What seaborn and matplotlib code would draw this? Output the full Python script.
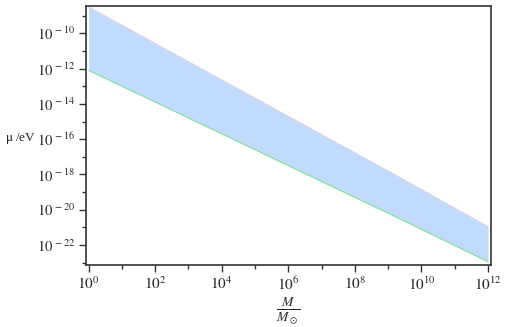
import numpy as np
import pandas as pd
import matplotlib
matplotlib.use("Agg")
import matplotlib.pyplot as plt
import matplotlib.ticker as mticker
import seaborn as sns

# Data (log-log straight lines)
mass = [1.0, 1e3, 1e6, 1e9, 1e12]
mu_upper = [10**-8.5, 10**-11.6, 10**-14.7, 10**-17.8, 10**-20.95]
mu_lower = [10**-12.1, 10**-14.8, 10**-17.5, 10**-20.2, 10**-22.95]

x_ticks = [1e0, 1e2, 1e4, 1e6, 1e8, 1e10, 1e12]
x_labels = [r"$10^{0}$", r"$10^{2}$", r"$10^{4}$", r"$10^{6}$", r"$10^{8}$", r"$10^{10}$", r"$10^{12}$"]
y_ticks = [1e-22, 1e-20, 1e-18, 1e-16, 1e-14, 1e-12, 1e-10]
y_labels = [r"$10^{\,-22}$", r"$10^{\,-20}$", r"$10^{\,-18}$", r"$10^{\,-16}$",
            r"$10^{\,-14}$", r"$10^{\,-12}$", r"$10^{\,-10}$"]

sns.set_style("ticks")
plt.rcParams["mathtext.fontset"] = "stix"
plt.rcParams["font.family"] = ["Liberation Serif", "DejaVu Serif"]

df = pd.DataFrame({"M": mass, "upper": mu_upper, "lower": mu_lower})

fig = plt.figure(figsize=(5.07, 3.27), dpi=100)
ax = fig.add_axes([86 / 507, 1 - 264.7 / 327, (491 - 86) / 507, (264.7 - 6) / 327])

ax.set_xscale("log")
ax.set_yscale("log")

sns.lineplot(data=df, x="M", y="upper", ax=ax, color="#ff7070", lw=0.5, alpha=0.5, zorder=1)
ax.fill_between(df["M"], df["lower"], df["upper"], color="#c0dbfe", lw=0, zorder=2)
sns.lineplot(data=df, x="M", y="lower", ax=ax, color="#7ee29a", lw=0.8, zorder=3)

ax.set_xlim(10**-0.08, 10**12.09)
ax.set_ylim(10**-23.12, 10**-8.45)

ax.xaxis.set_major_locator(mticker.FixedLocator(x_ticks))
ax.xaxis.set_major_formatter(mticker.FixedFormatter(x_labels))
ax.xaxis.set_minor_locator(mticker.FixedLocator([10.0**k for k in range(1, 13, 2)]))
ax.xaxis.set_minor_formatter(mticker.NullFormatter())
ax.yaxis.set_major_locator(mticker.FixedLocator(y_ticks))
ax.yaxis.set_major_formatter(mticker.FixedFormatter(y_labels))
ax.yaxis.set_minor_locator(mticker.FixedLocator([10.0**k for k in range(-23, -8, 2)]))
ax.yaxis.set_minor_formatter(mticker.NullFormatter())

ax.tick_params(axis="x", which="major", labelsize=11)
ax.tick_params(axis="y", which="major", labelsize=10.5)
ax.tick_params(which="major", length=5, width=1.0, color="#333333", pad=3)
ax.tick_params(which="minor", length=3, width=1.0, color="#333333")
for s in ax.spines.values():
    s.set_color("#333333")
    s.set_linewidth(1.2)

ax.set_xlabel(r"$\frac{M}{M_\odot}$", fontsize=14, labelpad=1)
ax.set_ylabel(r"$\mathrm{\mu}$ /eV", fontsize=9.5, rotation=0, labelpad=0,
              ha="center", va="center")
ax.yaxis.set_label_coords(-0.162, 0.488)

fig.savefig("out.png", dpi=100)
